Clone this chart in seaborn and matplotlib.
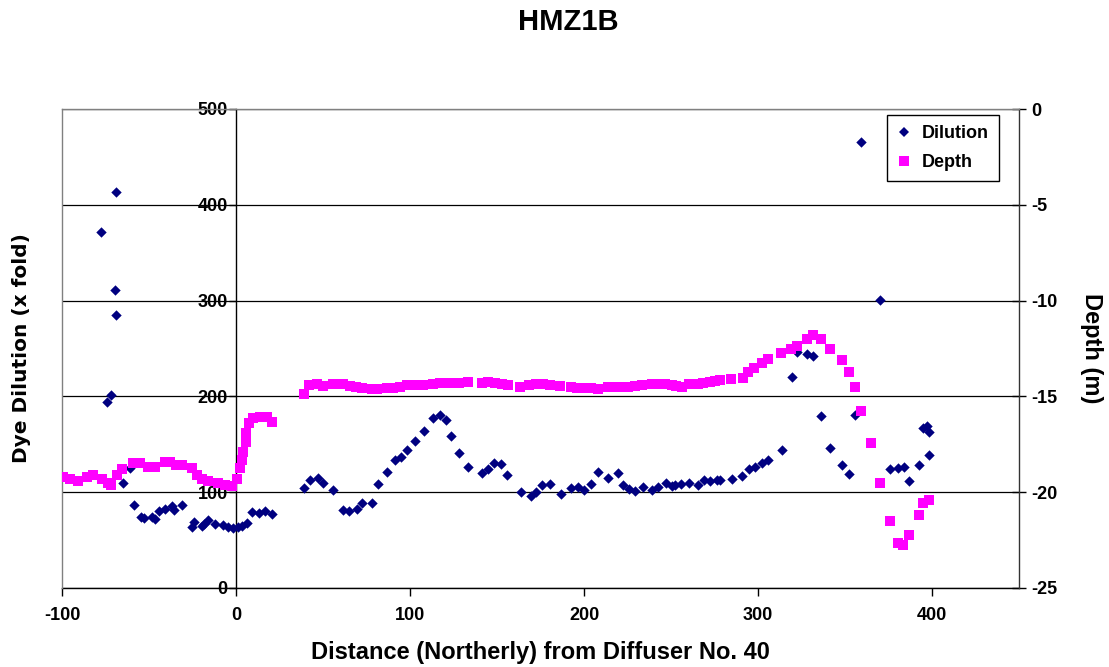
import numpy as np
import pandas as pd
import seaborn as sns
import matplotlib
matplotlib.use("Agg")
import matplotlib.pyplot as plt
from matplotlib.lines import Line2D

# Dye dilution (x fold) against northerly distance from diffuser No. 40
dil_x = [-77.6, -74.3, -71.8, -69.5, -68.8, -68.8, -65.0, -61.0, -58.4, -54.6,
         -52.7, -48.5, -46.5, -44.3, -40.8, -36.6, -35.4, -30.8, -25.5, -24.1,
         -19.7, -18.4, -16.3, -12.1, -7.7, -4.8, -1.5, 1.0, 3.3, 6.1,
         9.0, 13.2, 16.7, 20.5, 39.1, 42.5, 47.0, 50.2, 55.9, 61.3,
         64.9, 69.4, 72.6, 78.3, 81.4, 87.0, 91.4, 94.6, 98.1, 102.9,
         108.2, 113.4, 117.2, 120.5, 123.6, 128.2, 133.5, 141.2, 145.0, 148.4,
         152.3, 155.9, 163.6, 169.4, 172.4, 176.0, 180.5, 186.5, 192.5, 196.7,
         200.2, 203.8, 208.2, 213.6, 219.4, 222.6, 226.1, 229.3, 233.7, 239.3,
         242.7, 247.1, 250.8, 252.3, 255.7, 260.3, 265.7, 269.0, 272.4, 276.3,
         278.2, 284.9, 291.0, 294.8, 298.3, 302.1, 305.9, 314.0, 319.4, 322.4,
         327.9, 331.8, 336.0, 341.4, 348.1, 352.5, 355.7, 359.2, 370.3, 375.7,
         380.3, 383.9, 387.0, 392.5, 394.6, 396.9, 398.1, 398.1]
dilution = [372, 194, 201, 311, 285, 413, 110, 125, 87, 74,
            73, 74, 72, 80, 82, 86, 81, 87, 64, 69,
            65, 67, 71, 67, 66, 64, 63, 64, 65, 68,
            79, 78, 80, 77, 104, 113, 115, 110, 102, 81,
            80, 82, 89, 89, 109, 121, 134, 137, 144, 153,
            164, 177, 181, 175, 159, 141, 126, 120, 124, 130,
            129, 118, 100, 96, 100, 108, 109, 98, 104, 105,
            102, 109, 121, 115, 120, 108, 103, 101, 105, 102,
            105, 110, 106, 108, 109, 110, 108, 113, 112, 113,
            113, 114, 117, 124, 126, 130, 134, 144, 220, 246,
            244, 242, 180, 146, 128, 119, 181, 466, 301, 124,
            125, 126, 112, 128, 167, 169, 163, 139]

# Sampling depth (m) along the same transect
dep_x = [-99.2, -95.4, -90.6, -85.8, -82.0, -77.2, -73.7, -71.8, -68.6, -65.7,
         -59.0, -55.2, -50.4, -46.5, -40.8, -37.9, -34.7, -31.2, -25.1, -22.6,
         -19.7, -15.9, -10.2, -6.3, -2.5, 0.4, 2.3, 3.3, 3.8, 5.6,
         5.6, 7.5, 9.9, 13.8, 17.6, 20.5, 39.1, 42.1, 46.4, 50.2,
         55.5, 61.3, 65.5, 69.0, 72.2, 78.0, 80.9, 86.6, 90.4, 94.3,
         98.1, 101.9, 107.6, 113.4, 117.2, 121.1, 124.9, 128.3, 133.5, 141.2,
         145.0, 148.9, 152.7, 156.1, 163.2, 168.6, 172.4, 176.6, 180.5, 186.3,
         192.3, 196.2, 200.6, 204.0, 208.2, 213.6, 218.8, 221.6, 225.5, 229.3,
         233.2, 238.9, 242.7, 246.6, 250.4, 253.0, 256.1, 260.3, 265.7, 268.6,
         272.4, 275.3, 278.2, 284.5, 291.1, 294.4, 297.9, 302.3, 305.9, 313.3,
         319.0, 322.2, 327.9, 331.8, 336.0, 341.4, 348.1, 352.5, 355.7, 359.2,
         364.8, 370.3, 375.7, 380.3, 383.5, 387.0, 392.5, 394.6, 398.3]
depth = [-19.2, -19.3, -19.4, -19.2, -19.1, -19.3, -19.5, -19.6, -19.1, -18.8,
         -18.5, -18.5, -18.7, -18.7, -18.4, -18.4, -18.6, -18.6, -18.75, -19.1,
         -19.3, -19.4, -19.5, -19.65, -19.7, -19.3, -18.75, -18.3, -17.9, -17.4,
         -16.9, -16.4, -16.15, -16.05, -16.05, -16.35, -14.87, -14.4, -14.37, -14.46,
         -14.37, -14.37, -14.46, -14.49, -14.58, -14.63, -14.63, -14.58, -14.58, -14.49,
         -14.40, -14.43, -14.43, -14.37, -14.32, -14.32, -14.32, -14.32, -14.27, -14.30,
         -14.27, -14.32, -14.37, -14.40, -14.49, -14.43, -14.37, -14.35, -14.40, -14.45,
         -14.53, -14.55, -14.58, -14.58, -14.61, -14.49, -14.49, -14.49, -14.53, -14.46,
         -14.40, -14.37, -14.35, -14.37, -14.43, -14.46, -14.49, -14.37, -14.37, -14.28,
         -14.23, -14.18, -14.14, -14.11, -14.03, -13.73, -13.51, -13.25, -13.05, -12.73,
         -12.54, -12.35, -12.02, -11.81, -12.02, -12.54, -13.10, -13.74, -14.53, -15.75,
         -17.45, -19.54, -21.49, -22.64, -22.76, -22.23, -21.19, -20.55, -20.41]

x_ticks = [-100, 0, 100, 200, 300, 400]
dil_ticks = [0, 100, 200, 300, 400, 500]
depth_ticks = [-25, -20, -15, -10, -5, 0]

NAVY = "#000080"
MAGENTA = "#FF00FF"
ARIAL = "Liberation Sans"

df_dil = pd.DataFrame({"x": dil_x, "Dilution": dilution})
df_dep = pd.DataFrame({"x": dep_x, "Depth": depth})

plt.rcParams["font.family"] = ARIAL
plt.rcParams["font.weight"] = "bold"
plt.rcParams["axes.unicode_minus"] = False

fig = plt.figure(figsize=(11.09, 6.67), dpi=100)
ax = fig.add_axes([62 / 1109, 1 - 588 / 667, (1019 - 62) / 1109, (588 - 109) / 667])
ax2 = ax.twinx()

sns.scatterplot(data=df_dil, x="x", y="Dilution", ax=ax, marker="D", s=28,
                color=NAVY, linewidth=0, zorder=3, legend=False)
sns.scatterplot(data=df_dep, x="x", y="Depth", ax=ax2, marker="s", s=44,
                color=MAGENTA, linewidth=0, zorder=3, legend=False)

ax.set_xlim(-100, 450)
ax.set_ylim(0, 500)
ax2.set_ylim(-25, 0)
ax.set_xticks(x_ticks)
ax.set_yticks(dil_ticks)
ax2.set_yticks(depth_ticks)

# horizontal gridlines
ax.yaxis.grid(True, color="black", lw=0.9)
ax.xaxis.grid(False)
ax.set_axisbelow(True)

# primary value axis crosses at x = 0
ax.spines["left"].set_position(("data", 0))
ax.spines["left"].set_color("black")
ax.spines["bottom"].set_color("black")
ax.spines["top"].set_visible(False)
ax.spines["right"].set_visible(False)
ax2.spines["left"].set_color("#808080")
ax2.spines["top"].set_color("#808080")
ax2.spines["right"].set_color("#333333")
ax2.spines["bottom"].set_visible(False)
for sp in list(ax.spines.values()) + list(ax2.spines.values()):
    sp.set_linewidth(1.0)

ax.tick_params(axis="x", direction="out", length=6, width=1, pad=8,
               labelsize=13)
ax.tick_params(axis="y", direction="out", length=5, width=1, pad=1,
               labelsize=13)
ax2.tick_params(axis="y", direction="inout", length=10, width=1, pad=4,
                labelsize=13)
for lab in ax.get_xticklabels() + ax.get_yticklabels() + ax2.get_yticklabels():
    lab.set_fontweight("bold")

ax.set_xlabel("Distance (Northerly) from Diffuser No. 40", fontsize=17,
              fontweight="bold", va="center")
ax.xaxis.set_label_coords(0.5, (588 - 652) / 479)
ax.set_ylabel("Dye Dilution (x fold)", fontsize=14.5, fontweight="bold",
              family="DejaVu Sans", va="center")
ax.yaxis.set_label_coords((22 - 62) / 957, 0.5)
ax2.set_ylabel("Depth (m)", fontsize=17, fontweight="bold", rotation=270,
               va="center")
ax2.yaxis.set_label_coords((1092 - 62) / 957, 0.5)

fig.text(568 / 1109, 1 - 22 / 667, "HMZ1B", fontsize=21, fontweight="bold",
         ha="center", va="center")

handles = [
    Line2D([], [], linestyle="none", marker="D", markersize=5.3,
           markerfacecolor=NAVY, markeredgewidth=0),
    Line2D([], [], linestyle="none", marker="s", markersize=6.6,
           markerfacecolor=MAGENTA, markeredgewidth=0),
]
leg = ax2.legend(handles, ["Dilution", "Depth"], loc="upper right",
                 bbox_to_anchor=(0.979, 0.987), frameon=True, fancybox=False,
                 framealpha=1, edgecolor="black", prop={"weight": "bold", "size": 13},
                 handlelength=0.8, handletextpad=0.6, borderpad=0.55,
                 labelspacing=0.65, borderaxespad=0)
leg.get_frame().set_linewidth(1.0)

fig.savefig("out.png", dpi=100)
